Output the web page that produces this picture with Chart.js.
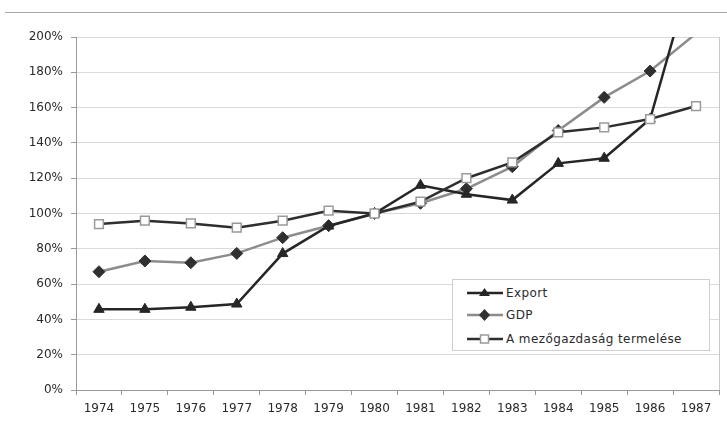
<!DOCTYPE html>
<html lang="hu">
<head>
  <meta charset="UTF-8" />
  <title>Export, GDP, mezőgazdaság</title>
  <script src="https://cdn.jsdelivr.net/npm/chart.js"></script>
  <style>
    html, body { margin: 0; padding: 0; background: #fff; }
    .wrap {
      position: relative;
      width: 727px;
      height: 438px;
      font-family: 'DejaVu Sans', sans-serif;
    }
    .topline {
      position: absolute;
      left: 5px; right: 0; top: 12px;
      border-top: 1px solid #aaa;
    }
    .legend {
      position: absolute;
      left: 452px; top: 279px;
      width: 258px; height: 72px;
      border: 1px solid #cfcfcf;
      background: #fff;
      box-sizing: border-box;
      font-size: 12px;
      letter-spacing: 0.4px;
      color: #2a2a2a;
    }
    .legend div {
      position: absolute;
      left: 14px;
      height: 16px;
      display: flex;
      align-items: center;
    }
    .legend svg { margin-right: 3px; }
  </style>
</head>
<body>
  <div class="wrap">
    <div class="topline"></div>
    <canvas id="chart" width="727" height="438"></canvas>
    <div class="legend" id="legend"></div>
  </div>

  <script>
    const years = ['1974', '1975', '1976', '1977', '1978', '1979', '1980',
                   '1981', '1982', '1983', '1984', '1985', '1986', '1987'];
    const exportVals = [45.7, 45.7, 46.9, 48.7, 77.3, 92.9, 100, 116, 110.9, 107.6, 128.4, 131.3, 153.5, 245];
    const gdpVals    = [67, 73.1, 72.1, 77.4, 86.3, 93.1, 100, 105.8, 114, 126.5, 147, 165.8, 180.7, 202];
    const agriVals   = [94, 95.9, 94.4, 92, 95.9, 101.6, 100, 106.7, 120, 129, 146, 148.8, 153.5, 160.9];
    const seriesNames = ['Export', 'GDP', 'A mezőgazdaság termelése'];
    const yMax = 200;

    // pontok a tengely felett nem latszanak
    const rad = r => ctx => (ctx.raw > yMax ? 0 : r);

    const rightBorder = {
      id: 'rightBorder',
      afterDraw(chart) {
        const { ctx, chartArea: a } = chart;
        ctx.save();
        ctx.strokeStyle = '#c8c8c8';
        ctx.lineWidth = 1;
        ctx.beginPath();
        ctx.moveTo(Math.round(a.right) + 0.5, a.top);
        ctx.lineTo(Math.round(a.right) + 0.5, a.bottom);
        ctx.stroke();
        ctx.restore();
      }
    };

    new Chart(document.getElementById('chart'), {
      type: 'line',
      data: {
        labels: years,
        datasets: [
          {
            label: seriesNames[0],
            data: exportVals,
            borderColor: '#262626',
            backgroundColor: '#262626',
            borderWidth: 2.5,
            pointStyle: 'triangle',
            pointRadius: rad(6),
            pointBorderWidth: 1,
            order: 2
          },
          {
            label: seriesNames[1],
            data: gdpVals,
            borderColor: '#8c8c8c',
            backgroundColor: '#303030',
            pointBorderColor: '#303030',
            borderWidth: 2.5,
            pointStyle: 'rectRot',
            pointRadius: rad(6),
            pointBorderWidth: 1,
            order: 3
          },
          {
            label: seriesNames[2],
            data: agriVals,
            borderColor: '#2e2e2e',
            backgroundColor: '#ffffff',
            pointBorderColor: '#9a9a9a',
            borderWidth: 2.5,
            pointStyle: 'rect',
            pointRadius: rad(6.2),
            pointBorderWidth: 1.5,
            order: 1
          }
        ]
      },
      options: {
        responsive: false,
        animation: false,
        layout: { padding: { top: 37, right: 8, left: 0, bottom: 0 } },
        plugins: {
          legend: { display: false },
          tooltip: { enabled: false }
        },
        scales: {
          x: {
            offset: true,
            afterFit: s => { s.height = 48; },
            grid: { offset: true, drawOnChartArea: false, tickLength: 5, tickColor: '#999' },
            border: { color: '#999' },
            ticks: { color: '#2a2a2a', padding: 7, maxRotation: 0, font: { family: 'DejaVu Sans', size: 12 } }
          },
          y: {
            min: 0,
            max: yMax,
            afterFit: s => { s.width = 76; },
            grid: { color: '#dadada', tickLength: 5, tickColor: '#999' },
            border: { color: '#999' },
            ticks: {
              stepSize: 20,
              padding: 8,
              color: '#2a2a2a',
              font: { family: 'DejaVu Sans', size: 12 },
              callback: v => v + '%'
            }
          }
        }
      },
      plugins: [rightBorder]
    });

    // jelmagyarazat
    const markers = [
      '<polygon points="17.5,3 23,11 12,11" fill="#262626"/>',
      '<polygon points="17.5,2 23,8 17.5,14 12,8" fill="#303030"/>',
      '<rect x="13.5" y="4" width="8" height="8" fill="#fff" stroke="#9a9a9a" stroke-width="1.5"/>'
    ];
    const lineCols = ['#262626', '#8c8c8c', '#2e2e2e'];
    const tops = [5, 27, 51];
    const legend = document.getElementById('legend');
    seriesNames.forEach((name, i) => {
      const row = document.createElement('div');
      row.style.top = tops[i] + 'px';
      row.innerHTML =
        '<svg width="36" height="16"><line x1="0" y1="8" x2="36" y2="8" stroke="' + lineCols[i] +
        '" stroke-width="2.5"/>' + markers[i] + '</svg><span>' + name + '</span>';
      legend.appendChild(row);
    });
  </script>
</body>
</html>
